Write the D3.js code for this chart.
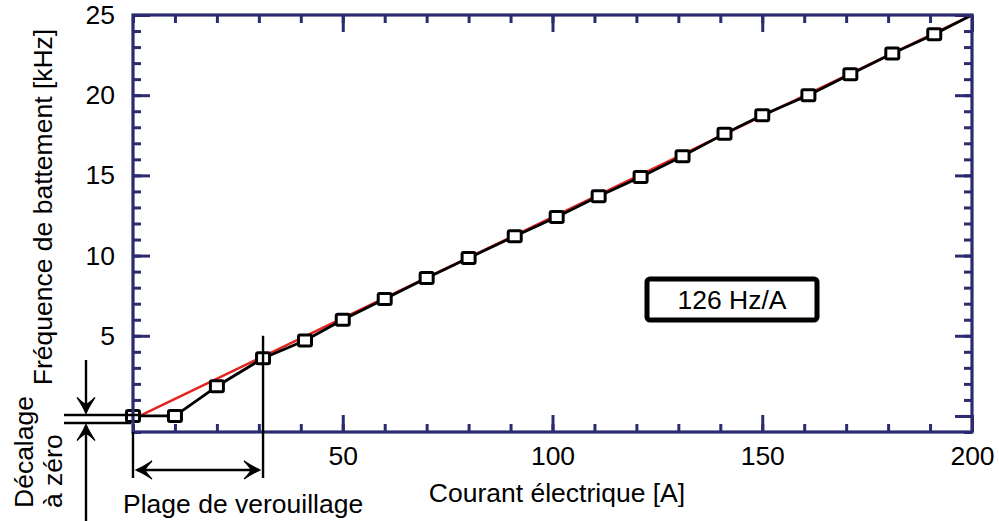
<!DOCTYPE html>
<html>
<head>
<meta charset="utf-8">
<script src="https://cdn.jsdelivr.net/npm/d3@7"></script>
<style>
  html, body { margin: 0; padding: 0; background: #fff; }
  svg { display: block; font-family: "Liberation Sans", Arial, sans-serif; }
</style>
</head>
<body>
<svg id="chart" width="999" height="521"></svg>
<script>
// Measured beat frequency versus electrical current
const currentA = [0, 10, 20, 31, 41, 50, 60, 70, 80, 91, 101, 111, 121, 131, 141, 150, 161, 171, 181, 191];
const beatKHz  = [0, 0, 1.85, 3.6, 4.7, 6.0, 7.3, 8.6, 9.85, 11.2, 12.4, 13.7, 14.9, 16.2, 17.6, 18.75, 20.0, 21.3, 22.6, 23.8];
// the measured curve continues to the upper corner of the plot
const tailCurrent = [200];
const tailBeat = [25];

// linear fit: 126 Hz/A
const fitSlopeKHzPerA = 0.126;
const fitInterceptKHz = -0.2;
const fitLabel = "126 Hz/A";

const xMajorTicks = [50, 100, 150, 200];
const xMinorTicks = d3.range(0, 201, 10);
const yMajorTicks = [0, 5, 10, 15, 20, 25];
const yMinorTicks = d3.range(-1, 26, 1);

const xTitle = "Courant électrique [A]";
const yTitle = "Fréquence de battement [kHz]";
const lockLabel = "Plage de verouillage";
const offsetLabel = ["Décalage", "à zéro"];
const lockEndA = 31;
const lockTopKHz = 5;

const svg = d3.select("#chart");
const axisColor = "#2b2b6f";
const font = 26.5;

const x = d3.scaleLinear().domain([0, 200]).range([133, 972]);
const y = d3.scaleLinear().domain([-1, 25]).range([432, 15]);

const plot = svg.append("g");

// clip region for the fit line
svg.append("clipPath").attr("id", "plotClip")
  .append("rect")
  .attr("x", x(0)).attr("y", y(25))
  .attr("width", x(200) - x(0)).attr("height", y(-1) - y(25));

// red fit line
const fitX = [0, 200];
plot.append("path")
  .attr("clip-path", "url(#plotClip)")
  .attr("d", d3.line().x(d => x(d)).y(d => y(fitSlopeKHzPerA * d + fitInterceptKHz))(fitX))
  .attr("fill", "none")
  .attr("stroke", "#e4231f")
  .attr("stroke-width", 2.4);

// measured curve
const pts = currentA.map((c, i) => [c, beatKHz[i]]);
const linePts = pts.concat(tailCurrent.map((c, i) => [c, tailBeat[i]]));
plot.append("path")
  .attr("d", d3.line().x(d => x(d[0])).y(d => y(d[1]))(linePts))
  .attr("fill", "none")
  .attr("stroke", "#000")
  .attr("stroke-width", 2.8)
  .attr("stroke-linejoin", "round");

// markers
svg.append("g").selectAll("rect").data(pts).join("rect")
  .attr("x", d => x(d[0]) - 6.5).attr("y", d => y(d[1]) - 5.5)
  .attr("width", 13).attr("height", 11).attr("rx", 1.5)
  .attr("fill", "#fff")
  .attr("stroke", "#000").attr("stroke-width", 3);

// axes: ticks point inward on all four sides
function styleAxis(g) {
  g.select(".domain").remove();
  g.selectAll(".tick line").attr("stroke", axisColor).attr("stroke-width", 3);
  g.selectAll(".tick text").attr("fill", "#000").attr("font-size", font)
    .attr("font-family", "Liberation Sans, Arial, sans-serif");
}
const noLabel = () => "";

svg.append("g").attr("transform", `translate(0,${y(-1)})`)
  .call(d3.axisBottom(x).tickValues(xMinorTicks).tickSize(-8).tickSizeOuter(0).tickFormat(noLabel))
  .call(styleAxis);
svg.append("g").attr("transform", `translate(0,${y(-1)})`)
  .call(d3.axisBottom(x).tickValues(xMajorTicks).tickSize(-17).tickSizeOuter(0).tickPadding(14).tickFormat(d3.format("d")))
  .call(styleAxis);
svg.append("g").attr("transform", `translate(0,${y(25)})`)
  .call(d3.axisTop(x).tickValues(xMinorTicks).tickSize(-8).tickSizeOuter(0).tickFormat(noLabel))
  .call(styleAxis);
svg.append("g").attr("transform", `translate(0,${y(25)})`)
  .call(d3.axisTop(x).tickValues(xMajorTicks).tickSize(-17).tickSizeOuter(0).tickFormat(noLabel))
  .call(styleAxis);

svg.append("g").attr("transform", `translate(${x(0)},0)`)
  .call(d3.axisLeft(y).tickValues(yMinorTicks.filter(v => v !== 0)).tickSize(-8).tickSizeOuter(0).tickFormat(noLabel))
  .call(styleAxis);
svg.append("g").attr("transform", `translate(${x(0)},0)`)
  .call(d3.axisLeft(y).tickValues(yMajorTicks.filter(v => v !== 0)).tickSize(-17).tickSizeOuter(0).tickPadding(18)
    .tickFormat(d3.format("d")))
  .call(styleAxis);
svg.append("g").attr("transform", `translate(${x(200)},0)`)
  .call(d3.axisRight(y).tickValues(yMinorTicks).tickSize(-8).tickSizeOuter(0).tickFormat(noLabel))
  .call(styleAxis);
svg.append("g").attr("transform", `translate(${x(200)},0)`)
  .call(d3.axisRight(y).tickValues(yMajorTicks).tickSize(-17).tickSizeOuter(0).tickFormat(noLabel))
  .call(styleAxis);

// plot frame
svg.append("rect")
  .attr("x", x(0)).attr("y", y(25))
  .attr("width", x(200) - x(0)).attr("height", y(-1) - y(25))
  .attr("fill", "none").attr("stroke", axisColor).attr("stroke-width", 3.2);

// fit label box
const boxCx = 732, boxCy = 299.5;
svg.append("rect")
  .attr("x", boxCx - 85).attr("y", boxCy - 20.5)
  .attr("width", 170).attr("height", 41).attr("rx", 3)
  .attr("fill", "#fff").attr("stroke", "#000").attr("stroke-width", 5);
svg.append("text")
  .attr("x", boxCx).attr("y", boxCy + 9)
  .attr("text-anchor", "middle").attr("font-size", font)
  .text(fitLabel);

// axis titles
svg.append("text")
  .attr("x", 557).attr("y", 502)
  .attr("text-anchor", "middle").attr("font-size", font)
  .text(xTitle);
svg.append("text")
  .attr("transform", "translate(52,207) rotate(-90)")
  .attr("text-anchor", "middle").attr("font-size", font)
  .text(yTitle);

// arrowhead shape, tip at origin, pointing along +y
const headPath = "M0,0 Q-3,-7 -9,-16 Q-3,-10 0,-9 Q3,-10 9,-16 Q3,-7 0,0 Z";
function arrowHead(tx, ty, angle) {
  svg.append("path")
    .attr("d", headPath)
    .attr("transform", `translate(${tx},${ty}) rotate(${angle})`)
    .attr("fill", "#000").attr("stroke", "#000").attr("stroke-width", 1.2);
}
const ann = svg.append("g").attr("stroke", "#000").attr("stroke-width", 2.4).attr("fill", "none");

// locking range annotation
const lockY = 470;
ann.append("line").attr("x1", x(0)).attr("x2", x(0)).attr("y1", y(-1)).attr("y2", 478);
ann.append("line").attr("x1", x(lockEndA)).attr("x2", x(lockEndA)).attr("y1", y(lockTopKHz)).attr("y2", 478);
ann.append("line").attr("x1", x(0) + 4).attr("x2", x(lockEndA) - 4).attr("y1", lockY).attr("y2", lockY);
arrowHead(x(0) + 3, lockY, 90);
arrowHead(x(lockEndA) - 3, lockY, -90);
svg.append("text")
  .attr("x", 123).attr("y", 513).attr("font-size", font)
  .text(lockLabel);

// zero offset annotation
const offTop = y(0) - 1, offBottom = y(0) + 7;
const arrowX = 86;
ann.append("line").attr("x1", 64).attr("x2", x(0) + 6).attr("y1", offTop).attr("y2", offTop);
ann.append("line").attr("x1", 64).attr("x2", x(0) - 2).attr("y1", offBottom).attr("y2", offBottom);
ann.append("line").attr("x1", arrowX).attr("x2", arrowX).attr("y1", 360).attr("y2", offTop - 3);
ann.append("line").attr("x1", arrowX).attr("x2", arrowX).attr("y1", 521).attr("y2", offBottom + 3);
arrowHead(arrowX, offTop - 1.5, 0);
arrowHead(arrowX, offBottom + 1.5, 180);
svg.append("text")
  .attr("transform", "translate(33,508) rotate(-90)")
  .attr("font-size", font)
  .text(offsetLabel[0]);
svg.append("text")
  .attr("transform", "translate(62,508) rotate(-90)")
  .attr("font-size", font)
  .text(offsetLabel[1]);
</script>
</body>
</html>
